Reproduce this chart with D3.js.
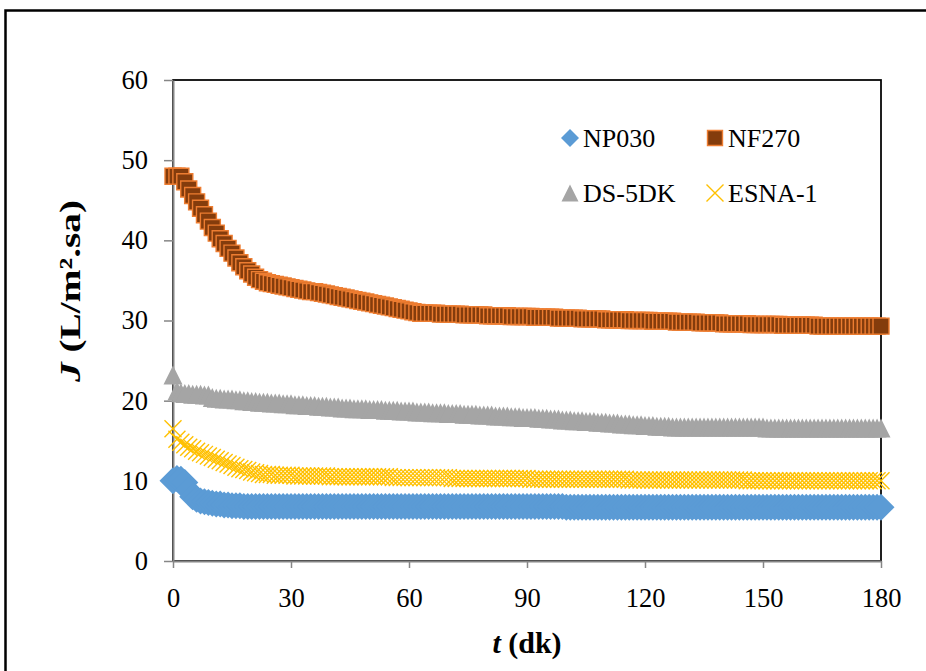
<!DOCTYPE html>
<html>
<head>
<meta charset="utf-8">
<script src="https://cdn.jsdelivr.net/npm/d3@7"></script>
<style>
  body { margin: 0; background: #fff; }
  svg { display: block; }
</style>
</head>
<body>
<div id="chart"></div>
<script>
// Sampling times (one reading per minute, 0..180 dk)
const minutes = d3.range(0, 181);

const xTicks = [0, 30, 60, 90, 120, 150, 180];
const yTicks = [0, 10, 20, 30, 40, 50, 60];

const seriesNames = ['NP030', 'NF270', 'DS-5DK', 'ESNA-1'];

// Flux values, J (L/m².sa) for each minute
const np030 = [
  10.0,10.3,10.2,9.8,8.8,8.0,7.7,7.5,7.4,7.3,
  7.2,7.1,7.1,7.0,7.0,6.9,6.9,6.9,6.8,6.8,
  6.8,6.8,6.8,6.8,6.8,6.8,6.8,6.8,6.8,6.8,
  6.8,6.8,6.8,6.8,6.8,6.8,6.8,6.8,6.8,6.8,
  6.8,6.8,6.8,6.8,6.8,6.8,6.8,6.8,6.8,6.8,
  6.8,6.8,6.8,6.8,6.8,6.8,6.8,6.8,6.8,6.8,
  6.8,6.8,6.8,6.8,6.8,6.8,6.8,6.8,6.8,6.8,
  6.8,6.8,6.8,6.8,6.8,6.8,6.8,6.8,6.8,6.8,
  6.8,6.8,6.8,6.8,6.8,6.8,6.8,6.8,6.8,6.8,
  6.8,6.8,6.8,6.8,6.8,6.8,6.8,6.8,6.8,6.8,
  6.7,6.7,6.7,6.7,6.7,6.7,6.7,6.7,6.7,6.7,
  6.7,6.7,6.7,6.7,6.7,6.7,6.7,6.7,6.7,6.7,
  6.7,6.7,6.7,6.7,6.7,6.7,6.7,6.7,6.7,6.7,
  6.7,6.7,6.7,6.7,6.7,6.7,6.7,6.7,6.7,6.7,
  6.7,6.7,6.7,6.7,6.7,6.7,6.7,6.7,6.7,6.7,
  6.7,6.7,6.7,6.7,6.7,6.7,6.7,6.7,6.7,6.7,
  6.7,6.7,6.7,6.7,6.7,6.7,6.7,6.7,6.7,6.7,
  6.7,6.7,6.7,6.7,6.7,6.7,6.7,6.7,6.7,6.7,
  6.7
];

const nf270 = [
  48.0,48.0,48.0,47.3,46.4,45.6,44.8,44.0,43.2,42.4,
  41.6,40.9,40.2,39.6,39.0,38.4,37.8,37.2,36.7,36.2,
  35.8,35.4,35.1,34.9,34.7,34.6,34.5,34.4,34.3,34.2,
  34.1,34.0,33.9,33.8,33.7,33.6,33.6,33.5,33.4,33.3,
  33.2,33.1,33.0,32.9,32.8,32.7,32.6,32.5,32.4,32.3,
  32.2,32.1,32.0,31.9,31.8,31.7,31.6,31.5,31.4,31.3,
  31.2,31.1,31.0,30.9,30.9,30.9,30.9,30.9,30.8,30.8,
  30.8,30.8,30.8,30.8,30.7,30.7,30.7,30.7,30.7,30.7,
  30.6,30.6,30.6,30.6,30.6,30.6,30.5,30.5,30.5,30.5,
  30.5,30.5,30.4,30.4,30.4,30.4,30.4,30.4,30.3,30.3,
  30.3,30.3,30.3,30.3,30.2,30.2,30.2,30.2,30.2,30.2,
  30.1,30.1,30.1,30.1,30.1,30.1,30.0,30.0,30.0,30.0,
  30.0,30.0,29.9,29.9,29.9,29.9,29.9,29.9,29.8,29.8,
  29.8,29.8,29.8,29.8,29.7,29.7,29.7,29.7,29.7,29.7,
  29.6,29.6,29.6,29.6,29.6,29.6,29.6,29.5,29.5,29.5,
  29.5,29.5,29.5,29.5,29.5,29.4,29.4,29.4,29.4,29.4,
  29.4,29.4,29.4,29.4,29.3,29.3,29.3,29.3,29.3,29.3,
  29.3,29.3,29.3,29.3,29.3,29.3,29.3,29.3,29.3,29.3,
  29.3
];

const ds5dk = [
  23.2,21.2,21.0,20.9,20.9,20.8,20.8,20.8,20.7,20.7,
  20.4,20.3,20.3,20.2,20.2,20.2,20.1,20.1,20.0,20.0,
  19.9,19.9,19.8,19.8,19.8,19.7,19.7,19.7,19.6,19.6,
  19.6,19.5,19.5,19.5,19.4,19.4,19.4,19.3,19.3,19.3,
  19.2,19.2,19.2,19.1,19.1,19.1,19.0,19.0,19.0,19.0,
  18.9,18.9,18.9,18.9,18.8,18.8,18.8,18.8,18.7,18.7,
  18.7,18.7,18.6,18.6,18.6,18.6,18.5,18.5,18.5,18.5,
  18.4,18.4,18.4,18.4,18.3,18.3,18.3,18.3,18.2,18.2,
  18.2,18.2,18.1,18.1,18.1,18.1,18.0,18.0,18.0,17.9,
  17.9,17.9,17.9,17.8,17.8,17.8,17.7,17.7,17.7,17.6,
  17.6,17.6,17.5,17.5,17.5,17.4,17.4,17.4,17.3,17.3,
  17.3,17.2,17.2,17.2,17.1,17.1,17.1,17.0,17.0,17.0,
  16.9,16.9,16.9,16.8,16.8,16.8,16.8,16.7,16.7,16.7,
  16.7,16.7,16.7,16.7,16.7,16.7,16.7,16.7,16.7,16.7,
  16.7,16.7,16.7,16.7,16.7,16.7,16.7,16.7,16.7,16.7,
  16.7,16.6,16.6,16.6,16.6,16.6,16.6,16.6,16.6,16.6,
  16.6,16.6,16.6,16.6,16.6,16.6,16.6,16.6,16.6,16.6,
  16.6,16.6,16.6,16.6,16.6,16.6,16.6,16.6,16.6,16.6,
  16.6
];

const esna1 = [
  16.5,15.2,14.8,14.5,14.2,14.0,13.7,13.5,13.3,13.1,
  12.9,12.7,12.5,12.3,12.1,11.9,11.7,11.5,11.4,11.3,
  11.1,11.0,10.9,10.8,10.8,10.8,10.7,10.7,10.7,10.7,
  10.7,10.6,10.6,10.6,10.6,10.6,10.6,10.6,10.6,10.6,
  10.5,10.5,10.5,10.5,10.5,10.5,10.5,10.5,10.5,10.5,
  10.5,10.5,10.5,10.5,10.5,10.5,10.4,10.4,10.4,10.4,
  10.4,10.4,10.4,10.4,10.4,10.4,10.4,10.4,10.4,10.4,
  10.4,10.3,10.3,10.3,10.3,10.3,10.3,10.3,10.3,10.3,
  10.3,10.3,10.3,10.3,10.3,10.3,10.3,10.3,10.3,10.3,
  10.3,10.2,10.2,10.2,10.2,10.2,10.2,10.2,10.2,10.2,
  10.2,10.2,10.2,10.2,10.2,10.2,10.2,10.2,10.2,10.2,
  10.2,10.2,10.2,10.2,10.2,10.2,10.1,10.1,10.1,10.1,
  10.1,10.1,10.1,10.1,10.1,10.1,10.1,10.1,10.1,10.1,
  10.1,10.1,10.1,10.1,10.1,10.1,10.1,10.1,10.1,10.1,
  10.1,10.1,10.1,10.1,10.1,10.1,10.0,10.0,10.0,10.0,
  10.0,10.0,10.0,10.0,10.0,10.0,10.0,10.0,10.0,10.0,
  10.0,10.0,10.0,10.0,10.0,10.0,10.0,10.0,10.0,10.0,
  10.0,10.0,10.0,10.0,10.0,10.0,10.0,10.0,10.0,10.0,
  10.0
];

const width = 926;
const height = 671;
const plot = { left: 173, right: 881, top: 80, bottom: 561 };
const serif = '"Liberation Serif", "Times New Roman", serif';

const svg = d3.select('#chart')
  .append('svg')
  .attr('width', width)
  .attr('height', height)
  .attr('font-family', serif);

// Outer frame of the figure
svg.append('rect')
  .attr('x', 5.5).attr('y', 10.5)
  .attr('width', 1000).attr('height', 1000)
  .attr('fill', '#fff')
  .attr('stroke', '#000')
  .attr('stroke-width', 2.5);

const x = d3.scaleLinear().domain([0, 180]).range([plot.left, plot.right]);
const y = d3.scaleLinear().domain([0, 60]).range([plot.bottom, plot.top]);

// Plot area border
svg.append('rect')
  .attr('x', plot.left).attr('y', plot.top)
  .attr('width', plot.right - plot.left)
  .attr('height', plot.bottom - plot.top)
  .attr('fill', 'none')
  .attr('stroke', '#000')
  .attr('stroke-width', 1.75);

// Axes
const yAxis = svg.append('g')
  .attr('transform', `translate(${plot.left},0)`)
  .call(d3.axisLeft(y).tickValues(yTicks).tickSize(9).tickSizeOuter(0).tickPadding(16));

const xAxis = svg.append('g')
  .attr('transform', `translate(0,${plot.bottom})`)
  .call(d3.axisBottom(x).tickValues(xTicks).tickSize(7).tickSizeOuter(0));

[yAxis, xAxis].forEach(a => {
  a.attr('font-family', serif);
  a.select('.domain').attr('stroke', '#868686').attr('stroke-width', 2);
  a.selectAll('.tick line').attr('stroke', '#868686').attr('stroke-width', 1.5);
  a.selectAll('.tick text')
    .attr('fill', '#000')
    .attr('font-family', serif)
    .attr('font-size', 26.5);
});
xAxis.selectAll('.tick text').attr('y', 46).attr('dy', 0);

// Marker shapes
const shapes = {
  diamond: s => `M0,${-s / 2}L${s / 2},0L0,${s / 2}L${-s / 2},0Z`,
  square: s => `M${-s / 2},${-s / 2}h${s}v${s}h${-s}Z`,
  triangle: s => `M0,${-s / 2}L${s / 2},${s / 2}L${-s / 2},${s / 2}Z`,
  cross: s => `M${-s / 2},${-s / 2}L${s / 2},${s / 2}M${s / 2},${-s / 2}L${-s / 2},${s / 2}`
};

const series = [
  { name: seriesNames[0], values: np030, shape: 'diamond', size: 27, legendSize: 18, fill: '#5B9BD5', stroke: 'none', sw: 0 },
  { name: seriesNames[1], values: nf270, shape: 'square', size: 16, legendSize: 15, fill: '#843C0C', stroke: '#ED7D31', sw: 1.4 },
  { name: seriesNames[2], values: ds5dk, shape: 'triangle', size: 19, legendSize: 17, fill: '#A5A5A5', stroke: 'none', sw: 0 },
  { name: seriesNames[3], values: esna1, shape: 'cross', size: 17, legendSize: 17, fill: 'none', stroke: '#FFC000', sw: 1.4 }
];

const marks = svg.append('g').attr('class', 'series');

series.forEach(s => {
  marks.append('g')
    .selectAll('path')
    .data(s.values.map((v, i) => ({ t: minutes[i], v })))
    .enter()
    .append('path')
    .attr('transform', d => `translate(${x(d.t)},${y(d.v)})`)
    .attr('d', shapes[s.shape](s.size))
    .attr('fill', s.fill)
    .attr('stroke', s.stroke)
    .attr('stroke-width', s.sw);
});

// Legend
const legendPos = [[570, 138], [715, 138], [570, 193], [715, 193]];
const legend = svg.append('g').attr('class', 'legend').attr('font-family', serif);
series.forEach((s, i) => {
  const [lx, ly] = legendPos[i];
  legend.append('path')
    .attr('transform', `translate(${lx},${ly})`)
    .attr('d', shapes[s.shape](s.legendSize))
    .attr('fill', s.fill)
    .attr('stroke', s.stroke)
    .attr('stroke-width', s.sw);
  legend.append('text')
    .attr('x', lx + 13)
    .attr('y', ly + 9)
    .attr('font-family', serif)
    .attr('font-size', 26)
    .text(s.name);
});

// Axis titles
const xTitle = svg.append('text')
  .attr('x', (plot.left + plot.right) / 2)
  .attr('y', 653)
  .attr('text-anchor', 'middle')
  .attr('font-family', serif)
  .attr('font-size', 30)
  .attr('font-weight', 'bold');
xTitle.append('tspan').attr('font-style', 'italic').text('t');
xTitle.append('tspan').text(' (dk)');

// the y title is stretched along its length in the original figure
const yTitle = svg.append('text')
  .attr('transform', `translate(80,291) rotate(-90)`)
  .attr('text-anchor', 'middle')
  .attr('font-family', serif)
  .attr('font-size', 30)
  .attr('font-weight', 'bold')
  .attr('textLength', 182)
  .attr('lengthAdjust', 'spacingAndGlyphs');
yTitle.append('tspan').attr('font-style', 'italic').text('J');
yTitle.append('tspan').text(' (L/m².sa)');
</script>
</body>
</html>
